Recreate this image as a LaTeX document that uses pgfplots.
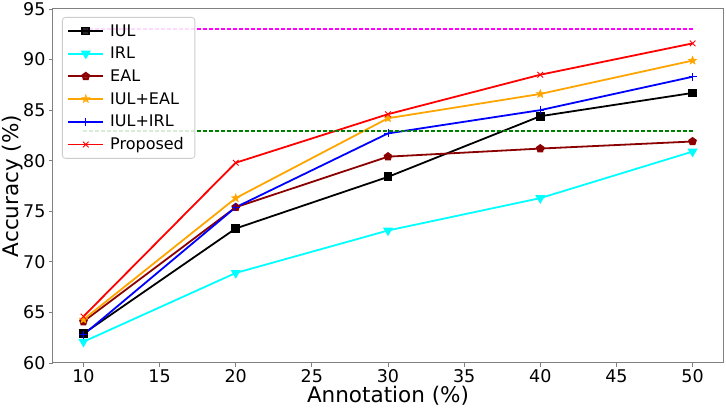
\documentclass[border=0pt]{standalone}
\usepackage{fontspec}
\setmainfont{DejaVu Sans}
\usepackage{pgfplots}
\pgfplotsset{compat=1.18}
\definecolor{darkredc}{HTML}{8B0000}
\definecolor{orangec}{HTML}{FFA500}
\definecolor{greenc}{HTML}{008000}
\definecolor{cyanc}{HTML}{00FFFF}
\definecolor{magentac}{HTML}{FF00FF}
\definecolor{bluec}{HTML}{0000FF}
\definecolor{redc}{HTML}{FF0000}
\definecolor{framec}{HTML}{808080}
\pgfdeclareplotmark{fstar}{%
  \pgfpathmoveto{\pgfqpointpolar{90}{1.3\pgfplotmarksize}}%
  \pgfpathlineto{\pgfqpointpolar{126}{0.55\pgfplotmarksize}}%
  \pgfpathlineto{\pgfqpointpolar{162}{1.3\pgfplotmarksize}}%
  \pgfpathlineto{\pgfqpointpolar{198}{0.55\pgfplotmarksize}}%
  \pgfpathlineto{\pgfqpointpolar{234}{1.3\pgfplotmarksize}}%
  \pgfpathlineto{\pgfqpointpolar{270}{0.55\pgfplotmarksize}}%
  \pgfpathlineto{\pgfqpointpolar{306}{1.3\pgfplotmarksize}}%
  \pgfpathlineto{\pgfqpointpolar{342}{0.55\pgfplotmarksize}}%
  \pgfpathlineto{\pgfqpointpolar{18}{1.3\pgfplotmarksize}}%
  \pgfpathlineto{\pgfqpointpolar{54}{0.55\pgfplotmarksize}}%
  \pgfpathclose
  \pgfusepathqfillstroke}
\begin{document}
\begin{tikzpicture}
\begin{axis}[
  at={(0,0)}, anchor=south west,
  scale only axis, width=670pt, height=354pt,
  xmin=8, xmax=52, ymin=60, ymax=95,
  xtick={10,15,...,50}, ytick={60,65,...,95},
  axis line style={framec, line width=1pt},
  tick style={framec, line width=0.8pt},
  tick align=outside, tick pos=left,
  major tick length=4pt,
  /pgf/number format/assume math mode=true,
  ticklabel style={font=\fontsize{17.5}{20}\selectfont},
  xticklabel style={yshift=1pt},
  xlabel={Annotation (\%)}, ylabel={Accuracy (\%)},
  label style={font=\fontsize{21.5}{25}\selectfont},
  xlabel style={at={([yshift=-40pt]axis description cs:0.5,0)}, anchor=base},
  ylabel style={at={([xshift=-34.5pt]axis description cs:0,0.5)}, anchor=base},
  legend style={at={([xshift=9pt,yshift=-8pt]axis description cs:0,1)}, anchor=north west, draw=black!20, line width=0.8pt, rounded corners=3pt,
    fill=white, fill opacity=0.85, draw opacity=1, text opacity=1,
    font=\fontsize{16}{19}\selectfont, row sep=5.5pt, inner xsep=5pt, inner ysep=5pt,
    nodes={inner xsep=6pt}},
  legend cell align=left,
  legend image code/.code={\draw[mark repeat=2,mark phase=2,#1] plot coordinates {(0pt,0pt) (17.5pt,0pt) (35pt,0pt)};},
]
\addplot[color=black, line width=1.8pt, mark=square*, mark size=3.5pt] coordinates {(10,62.9) (20,73.3) (30,78.4) (40,84.4) (50,86.7)};
\addlegendentry{IUL}
\addplot[color=cyanc, line width=1.8pt, mark=triangle*, mark size=4pt, mark options={rotate=180}] coordinates {(10,62.1) (20,68.9) (30,73.1) (40,76.3) (50,80.9)};
\addlegendentry{IRL}
\addplot[color=darkredc, line width=1.8pt, mark=pentagon*, mark size=3.5pt] coordinates {(10,64.1) (20,75.4) (30,80.4) (40,81.2) (50,81.9)};
\addlegendentry{EAL}
\addplot[color=orangec, line width=1.8pt, mark=fstar, mark size=3.5pt, mark options={line width=0.3pt}] coordinates {(10,64.3) (20,76.3) (30,84.2) (40,86.6) (50,89.9)};
\addlegendentry{IUL+EAL}
\addplot[color=bluec, line width=1.8pt, mark=+, mark size=4pt, mark options={line width=0.9pt}] coordinates {(10,62.8) (20,75.4) (30,82.7) (40,85.0) (50,88.3)};
\addlegendentry{IUL+IRL}
\addplot[color=redc, line width=1.8pt, mark=x, mark size=4pt, mark options={line width=0.9pt}] coordinates {(10,64.6) (20,79.8) (30,84.6) (40,88.5) (50,91.6)};
\addlegendentry{Proposed}
\addplot[color=magentac, dash pattern=on 4pt off 2pt, line width=1.6pt, forget plot] coordinates {(10,93.0) (50,93.0)};
\addplot[color=greenc, dash pattern=on 4pt off 2pt, line width=2pt, forget plot] coordinates {(10,82.9) (50,82.9)};
\end{axis}
\pgfresetboundingbox
\path (-53pt,-46pt) rectangle (673pt,363pt);
\end{tikzpicture}
\end{document}
